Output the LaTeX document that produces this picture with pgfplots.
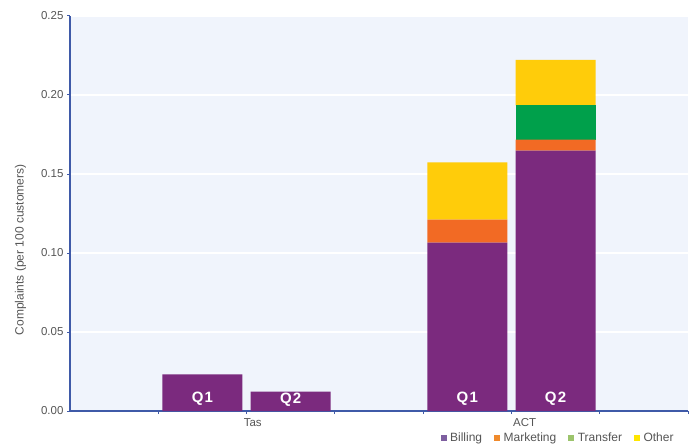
\documentclass[border=0pt]{standalone}
\usepackage{pgfplots}
\pgfplotsset{compat=1.18}
\usepackage{pgfplotstable}
\usepackage{fontspec}
\setmainfont{Liberation Sans}
\newfontfamily\qfont{Liberation Sans}[LetterSpace=8]
\definecolor{bgblue}{HTML}{F0F4FC}
\definecolor{axblue}{HTML}{3F5AA8}
\definecolor{txtgray}{HTML}{555555}
\definecolor{cBilling}{HTML}{7B2A7E}
\definecolor{cMarketing}{HTML}{F26A24}
\definecolor{cTransfer}{HTML}{00A04B}
\definecolor{cOther}{HTML}{FFCC0A}
\definecolor{lBilling}{HTML}{7E5FA0}
\definecolor{lMarketing}{HTML}{F08A2C}
\definecolor{lTransfer}{HTML}{9CC46C}
\definecolor{lOther}{HTML}{FFE600}
\pgfplotstableread{
x Billing Marketing Transfer Other
2 0.0232 0 0 0
3 0.0122 0 0 0
5 0.1065 0.0146 0 0.0363
6 0.1648 0.0069 0.0218 0.0287
}\datatable
\begin{document}
\begin{tikzpicture}
\useasboundingbox (-70bp,-36bp) rectangle (623bp,411bp);
\begin{axis}[
  at={(0,0)}, anchor=south west,
  scale only axis, width=618bp, height=395bp,
  clip=false,
  ybar stacked, bar width=80bp,
  xmin=0.5, xmax=7.5, ymin=0, ymax=0.25,
  axis x line=bottom, axis y line=left,
  axis line style={-, draw=axblue, line width=1.3pt},
  axis background/.style={fill=bgblue},
  ymajorgrids, grid style={white, line width=1.3pt},
  xtick={1.5,2.5,3.5,4.5,5.5,6.5,7.5}, xticklabels={},
  ytick={0,0.05,0.1,0.15,0.2,0.25},
  tick align=outside, major tick length=3bp,
  tick style={draw=axblue, line width=1pt},
  yticklabel style={/pgf/number format/.cd, fixed, fixed zerofill, precision=2, assume math mode=true},
  ticklabel style={font=\fontsize{11.5bp}{13bp}\selectfont, text=txtgray},
  ylabel={Complaints (per 100 customers)},
  ylabel style={font=\fontsize{12bp}{14bp}\selectfont, text=txtgray, at={(axis description cs:-0.08,0.408)}, anchor=center},
  legend style={at={(axis description cs:0.985,-0.068)}, anchor=east, draw=none, fill=none,
    font=\fontsize{12bp}{14bp}\selectfont, text=txtgray, column sep=1bp,
    /tikz/every odd column/.append style={column sep=1.5bp},
    /tikz/every even column/.append style={column sep=10bp}},
  legend columns=-1,
]
\addplot[fill=cBilling, draw=none, legend image code/.code={\fill[lBilling] (0bp,-3bp) rectangle (6bp,3bp);}] table[x=x, y=Billing] {\datatable};
\addplot[fill=cMarketing, draw=none, legend image code/.code={\fill[lMarketing] (0bp,-3bp) rectangle (6bp,3bp);}] table[x=x, y=Marketing] {\datatable};
\addplot[fill=cTransfer, draw=none, legend image code/.code={\fill[lTransfer] (0bp,-3bp) rectangle (6bp,3bp);}] table[x=x, y=Transfer] {\datatable};
\addplot[fill=cOther, draw=none, legend image code/.code={\fill[lOther] (0bp,-3bp) rectangle (6bp,3bp);}] table[x=x, y=Other] {\datatable};
\legend{Billing,Marketing,Transfer,Other}
\coordinate (tq1) at (axis cs:2,0.0078);
\coordinate (tq2) at (axis cs:3,0.0072);
\coordinate (aq1) at (axis cs:5,0.0075);
\coordinate (aq2) at (axis cs:6,0.0075);
\node[text=txtgray, font=\fontsize{11.5bp}{13bp}\selectfont, anchor=north] at (axis cs:2.57,0) [yshift=-4bp] {Tas};
\node[text=txtgray, font=\fontsize{11.5bp}{13bp}\selectfont, anchor=north] at (axis cs:5.65,0) [yshift=-4bp] {ACT};
\end{axis}
\tikzset{qlab/.style={text=white, font=\qfont\bfseries\fontsize{15bp}{17bp}\selectfont}}
\node[qlab] at (tq1) {Q1};
\node[qlab] at (tq2) {Q2};
\node[qlab] at (aq1) {Q1};
\node[qlab] at (aq2) {Q2};
\end{tikzpicture}
\end{document}
